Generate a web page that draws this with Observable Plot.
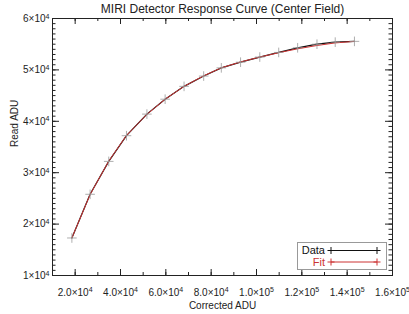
<!DOCTYPE html>
<html><head><meta charset="utf-8">
<script src="https://cdn.jsdelivr.net/npm/d3@7"></script>
<script src="https://cdn.jsdelivr.net/npm/@observablehq/plot@0.6"></script>
<style>
body{margin:0;background:#fff;}
#wrap{position:relative;width:409px;height:314px;}
#legend{position:absolute;left:297px;top:242px;}
</style></head><body><div id="wrap"></div>
<script>
const correctedADU = [18550, 26590, 34810, 42640, 51650, 59690, 68040, 76700, 84480, 92970, 101450, 109800, 118150, 126680, 134730, 143210];
const readADU = [17300, 25800, 32200, 37200, 41400, 44300, 46800, 48800, 50400, 51500, 52500, 53400, 54300, 55000, 55400, 55550];
const fitADU = [17300, 25750, 32250, 37250, 41350, 44300, 46800, 48850, 50400, 51550, 52500, 53350, 54100, 54750, 55250, 55550];
const xTickValues = [20000, 40000, 60000, 80000, 100000, 120000, 140000, 160000];
const yTickValues = [10000, 20000, 30000, 40000, 50000, 60000];
const titleText = "MIRI Detector Response Curve (Center Field)";
const xLabel = "Corrected ADU";
const yLabel = "Read ADU";
const seriesNames = ["Data", "Fit"];

const W = 409, H = 314, mL = 52, mR = 17, mT = 18, mB = 39;
const plotW = W - mL - mR, plotH = H - mT - mB;
const ink = "#222";
const red = "#cc3333";

function sci(v, digits) {
  const e = Math.floor(Math.log10(v));
  const m = v / Math.pow(10, e);
  return (digits ? m.toFixed(digits) : String(Math.round(m))) + "\u00d710^" + e;
}

const table = correctedADU.map((x, i) => ({x, y: readADU[i], fit: fitADU[i]}));
const xMinor = d3.range(10000, 160001, 10000);
const yMinor = d3.range(10000, 60001, 1000);

const chart = Plot.plot({
  width: W, height: H,
  marginLeft: mL, marginRight: mR, marginTop: mT, marginBottom: mB,
  style: {fontFamily: "Liberation Sans, Arial, sans-serif", fontSize: "10px", color: ink, background: "white"},
  x: {domain: [10000, 160000], axis: null},
  y: {domain: [10000, 60000], axis: null},
  marks: [
    Plot.frame({stroke: ink}),
    Plot.tickX(xTickValues, {x: d => d, insetTop: plotH - 6, stroke: ink}),
    Plot.tickX(xMinor, {x: d => d, insetTop: plotH - 3, stroke: ink}),
    Plot.tickX(xTickValues, {x: d => d, insetBottom: plotH - 6, stroke: ink}),
    Plot.tickX(xMinor, {x: d => d, insetBottom: plotH - 3, stroke: ink}),
    Plot.tickY(yTickValues, {y: d => d, insetRight: plotW - 7, stroke: ink}),
    Plot.tickY(yMinor, {y: d => d, insetRight: plotW - 3.5, stroke: ink}),
    Plot.tickY(yTickValues, {y: d => d, insetLeft: plotW - 7, stroke: ink}),
    Plot.tickY(yMinor, {y: d => d, insetLeft: plotW - 3.5, stroke: ink}),
    Plot.axisX({ticks: xTickValues, tickSize: 0, tickPadding: 13, tickFormat: d => sci(d, 1), label: null, fill: ink}),
    Plot.axisY({ticks: yTickValues, tickSize: 0, tickPadding: 3, tickFormat: d => sci(d, 0), label: null, fill: ink}),
    Plot.line(table, {x: "x", y: "y", stroke: "#111", strokeWidth: 1.2}),
    Plot.line(table, {x: "x", y: "fit", stroke: red, strokeWidth: 1}),
    Plot.dot(table, {x: "x", y: "y", symbol: "plus", r: 3.2, stroke: "#999", strokeWidth: 0.8}),
    Plot.text([titleText], {text: d => d, frameAnchor: "top", lineAnchor: "middle", dy: -9, fontSize: 12, fill: ink}),
    Plot.text([xLabel], {text: d => d, frameAnchor: "bottom", lineAnchor: "middle", dy: 30, fontSize: 10, fill: ink}),
    Plot.text([yLabel], {text: d => d, frameAnchor: "left", lineAnchor: "middle", dx: -38, rotate: -90, fontSize: 10, fill: ink})
  ]
});
const wrap = document.getElementById("wrap");
wrap.appendChild(chart);

// superscript exponents in tick labels
d3.select(chart).selectAll("text").each(function() {
  const t = this.textContent;
  if (!t.includes("^")) return;
  const [base, exp] = t.split("^");
  const sel = d3.select(this);
  sel.text(null);
  sel.append("tspan").text(base);
  sel.append("tspan").attr("dy", "-0.45em").attr("font-size", "7px").text(exp);
});

// legend overlay
const lg = d3.select(wrap).append("svg").attr("id", "legend").attr("width", 90).attr("height", 28)
  .style("font-family", "Liberation Sans, Arial, sans-serif");
lg.append("rect").attr("x", 0.5).attr("y", 0.5).attr("width", 89).attr("height", 27).attr("fill", "white").attr("stroke", "#999");
const colors = ["#111", red];
seriesNames.forEach((name, i) => {
  const yy = 8.5 + i * 11.5;
  lg.append("text").attr("x", 28).attr("y", yy).attr("dy", "0.35em").attr("text-anchor", "end")
    .attr("font-size", 11).attr("fill", colors[i]).text(name);
  lg.append("line").attr("x1", 34).attr("x2", 80).attr("y1", yy).attr("y2", yy).attr("stroke", colors[i]);
  [34, 80].forEach(cx => {
    lg.append("line").attr("x1", cx - 3.5).attr("x2", cx + 3.5).attr("y1", yy).attr("y2", yy).attr("stroke", colors[i]);
    lg.append("line").attr("x1", cx).attr("x2", cx).attr("y1", yy - 3.5).attr("y2", yy + 3.5).attr("stroke", colors[i]);
  });
});
</script></body></html>
